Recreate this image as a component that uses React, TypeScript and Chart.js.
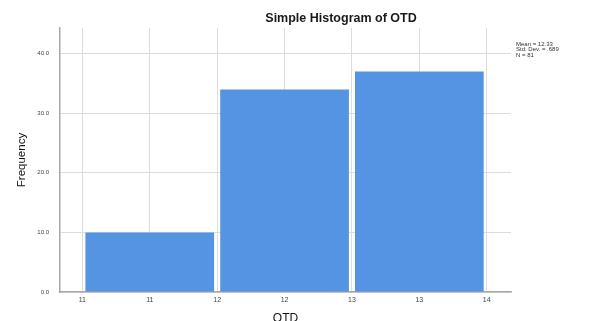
import React, { useEffect, useRef } from 'react';
import { Chart, registerables } from 'chart.js';

Chart.register(...registerables);

// ---- data ----
const binCenters = [11.5, 12.5, 13.5];
const frequencies = [10, 34, 37];
const xTickValues = [11, 11.5, 12, 12.5, 13, 13.5, 14];
const xTickLabels = ['11', '11', '12', '12', '13', '13', '14'];
const yTickValues = [0, 10, 20, 30, 40];
const statsLines = ['Mean = 12.33', 'Std. Dev. = .689', 'N = 81'];
const chartTitle = 'Simple Histogram of OTD';
const xAxisTitle = 'OTD';
const yAxisTitle = 'Frequency';

const FONT = '"Liberation Sans", Arial, sans-serif';

const overlayPlugin = {
  id: 'overlayText',
  afterDraw(chart: any) {
    const { ctx, chartArea } = chart;
    ctx.save();
    ctx.fillStyle = '#1a1a1a';
    ctx.font = `bold 12.5px ${FONT}`;
    ctx.textAlign = 'center';
    ctx.textBaseline = 'middle';
    ctx.fillText(chartTitle, chartArea.left + 281, chartArea.top - 9);
    ctx.font = `6px ${FONT}`;
    ctx.textAlign = 'left';
    ctx.fillStyle = '#333';
    statsLines.forEach((line, i) => {
      ctx.fillText(line, chartArea.right + 5, chartArea.top + 16 + i * 5.7);
    });
    ctx.restore();
  },
};

export default function App() {
  const canvasRef = useRef<HTMLCanvasElement | null>(null);

  useEffect(() => {
    const canvas = canvasRef.current;
    if (!canvas) return;
    const chart = new Chart(canvas, {
      type: 'bar',
      data: {
        datasets: [
          {
            data: binCenters.map((x, i) => ({ x, y: frequencies[i] })),
            backgroundColor: '#5594E2',
            borderWidth: 0,
            categoryPercentage: 1,
            barPercentage: 1.91,
          },
        ],
      },
      options: {
        animation: false,
        responsive: false,
        maintainAspectRatio: false,
        layout: { padding: { top: 28, right: 78, left: 0, bottom: 0 } },
        plugins: {
          legend: { display: false },
          tooltip: { enabled: false },
          title: { display: false },
        },
        scales: {
          x: {
            type: 'linear',
            offset: false,
            min: 10.834,
            max: 14.18,
            afterBuildTicks: (scale: any) => {
              scale.ticks = xTickValues.map((v) => ({ value: v }));
            },
            afterFit: (scale: any) => {
              scale.height = 38;
            },
            ticks: {
              autoSkip: false,
              maxRotation: 0,
              padding: 4,
              color: '#444',
              font: { size: 7, family: FONT },
              callback: (value: any) => {
                const idx = xTickValues.indexOf(Number(value));
                return idx >= 0 ? xTickLabels[idx] : '';
              },
            },
            grid: { color: '#dcdcdc', lineWidth: 1, drawTicks: false, offset: false },
            border: { color: '#a8a8a8', width: 1.5 },
            title: {
              display: true,
              text: xAxisTitle,
              color: '#111',
              font: { size: 12, family: FONT },
              padding: { top: 0, bottom: 4 },
            },
          },
          y: {
            type: 'linear',
            min: 0,
            max: 44.3,
            afterBuildTicks: (scale: any) => {
              scale.ticks = yTickValues.map((v) => ({ value: v }));
            },
            afterFit: (scale: any) => {
              scale.width = 60;
            },
            ticks: {
              padding: 11,
              color: '#444',
              font: { size: 6, family: FONT },
              callback: (value: any) => Number(value).toFixed(1),
            },
            grid: { color: '#dcdcdc', lineWidth: 1, drawTicks: false },
            border: { color: '#a8a8a8', width: 1.5 },
            title: {
              display: true,
              text: yAxisTitle,
              color: '#111',
              font: { size: 11.5, family: FONT },
              padding: { top: 15, bottom: 0 },
            },
          },
        },
      },
      plugins: [overlayPlugin],
    } as any);
    return () => chart.destroy();
  }, []);

  return (
    <div
      style={{
        position: 'fixed',
        left: 0,
        top: 0,
        width: 589,
        height: 321,
        overflow: 'hidden',
        background: '#fff',
      }}
    >
      <canvas ref={canvasRef} width={589} height={330} style={{ display: 'block', width: 589, height: 330 }} />
    </div>
  );
}
